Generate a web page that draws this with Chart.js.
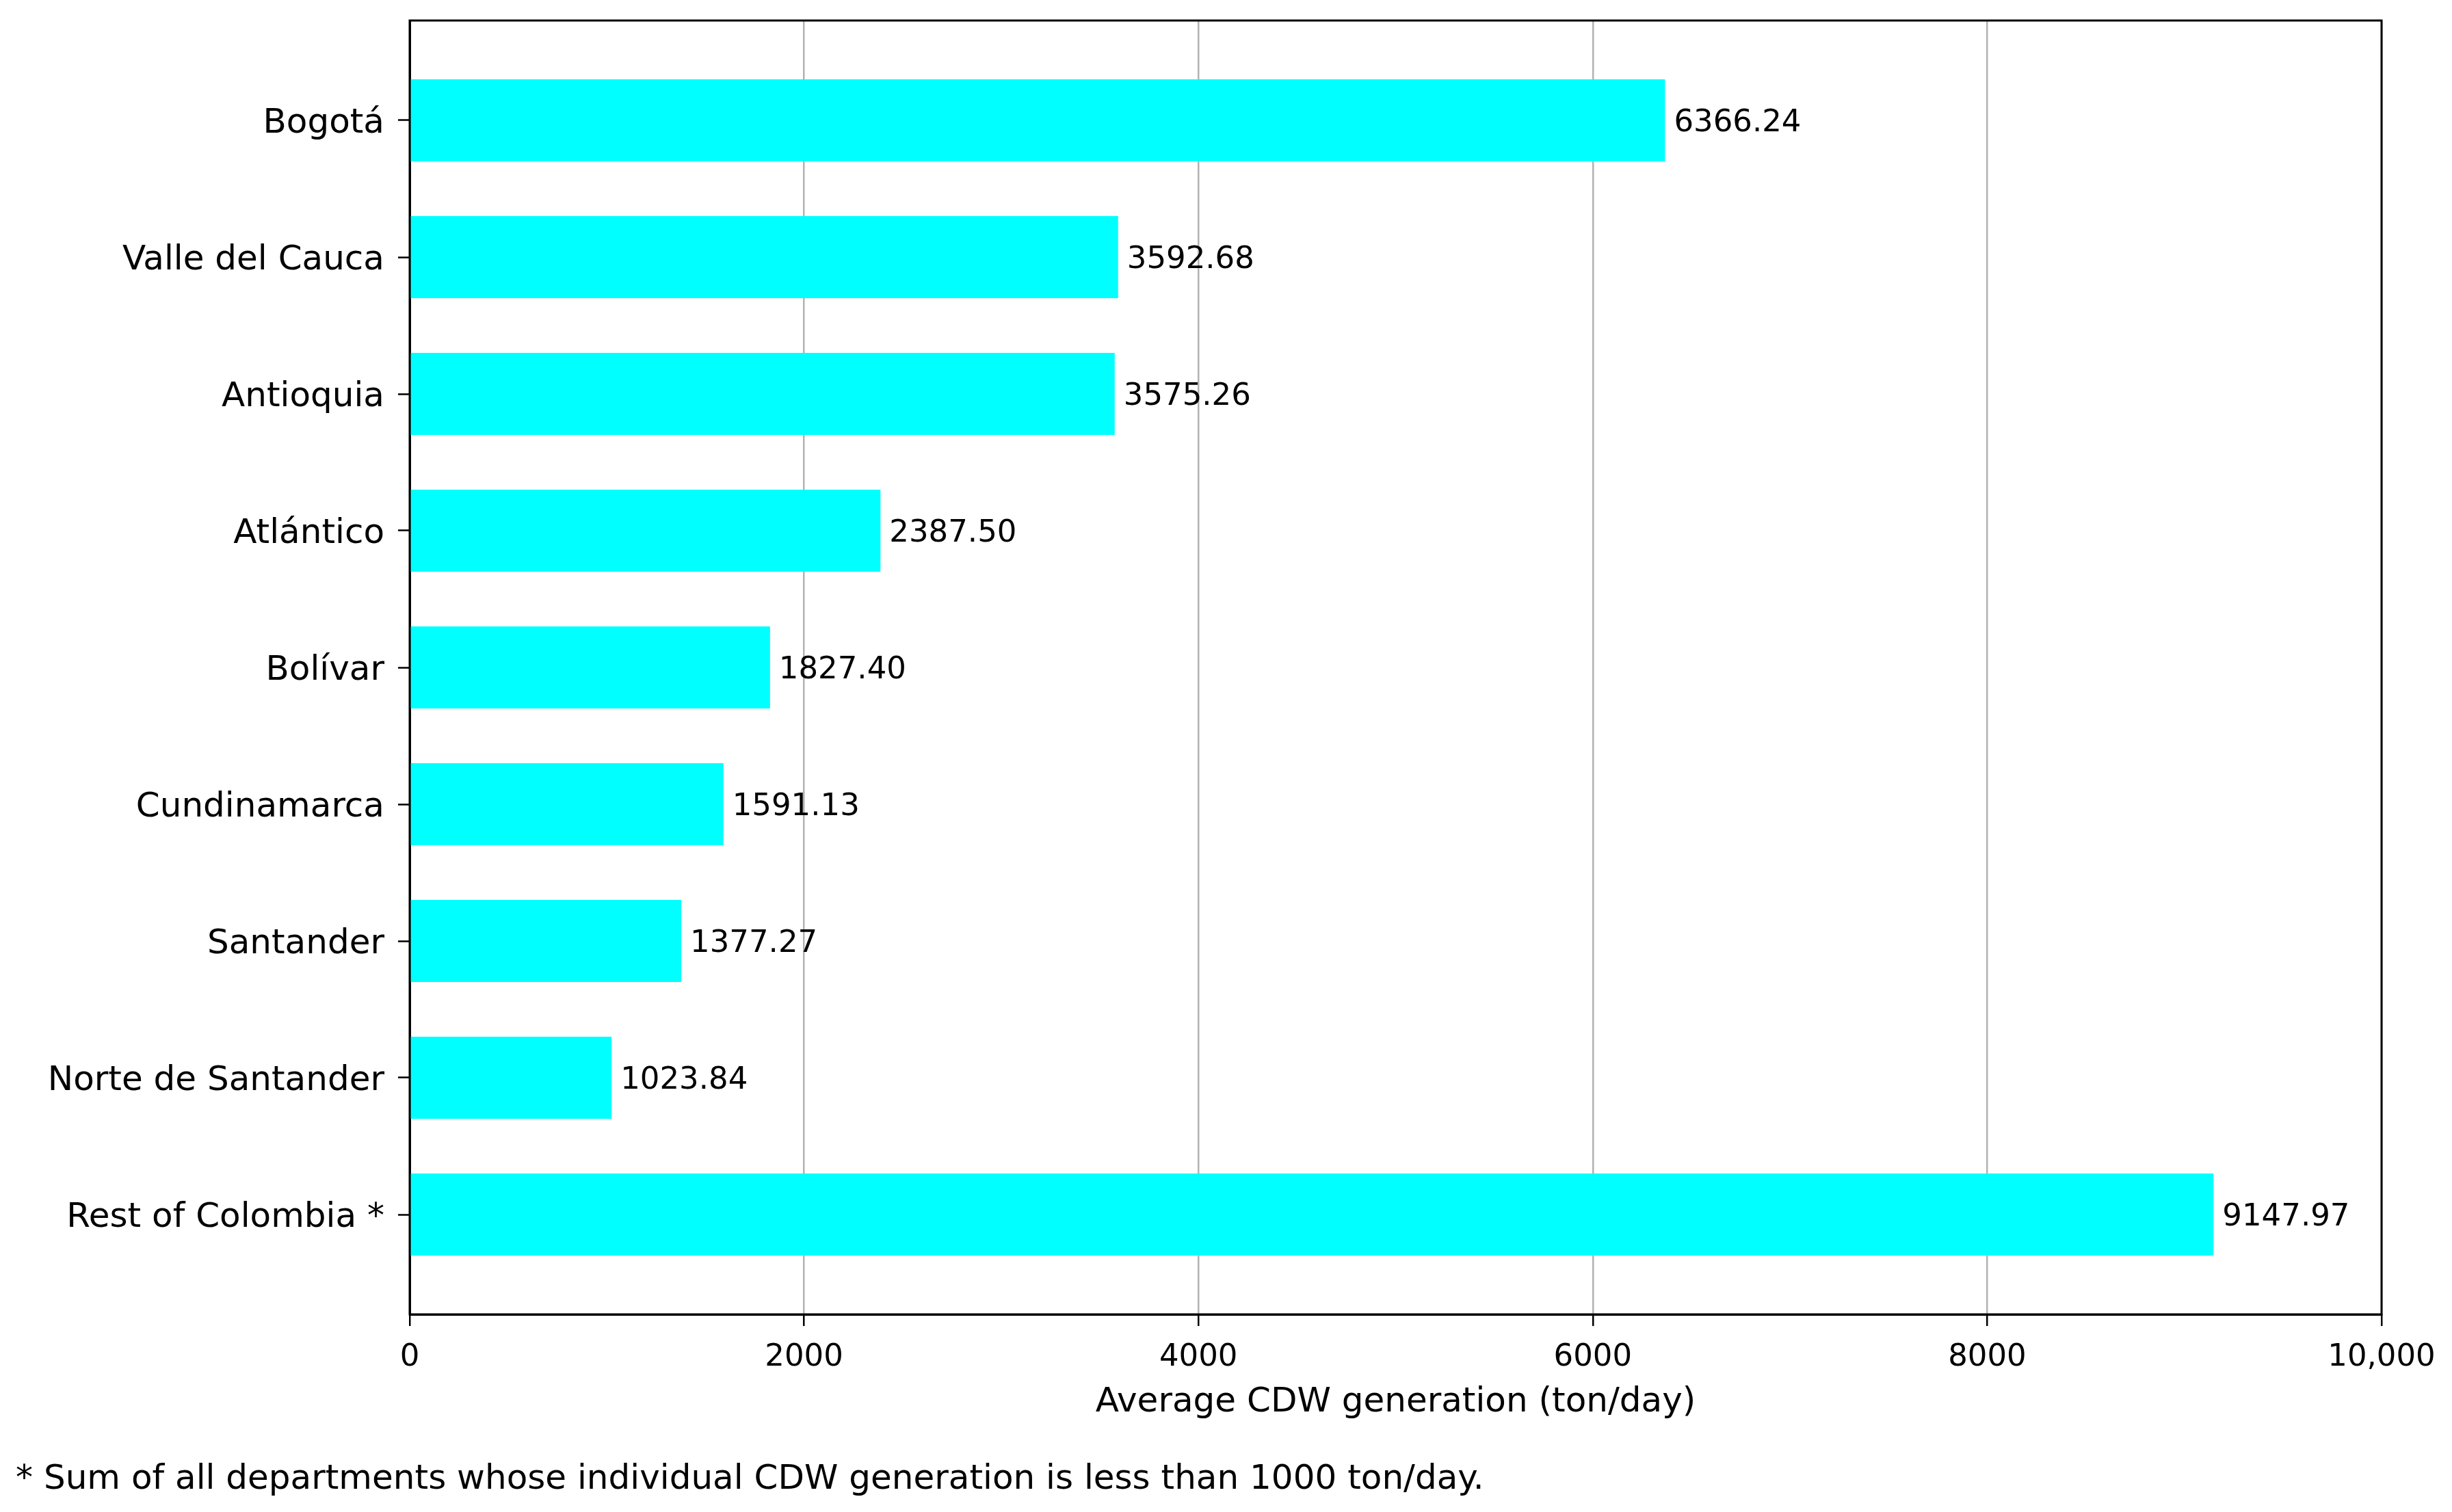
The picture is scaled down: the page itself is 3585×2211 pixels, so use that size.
<!DOCTYPE html>
<html>
<head>
<meta charset="utf-8">
<script src="https://cdn.jsdelivr.net/npm/chart.js@4"></script>
<style>
  html, body { margin: 0; padding: 0; background: #ffffff; }
  #wrap { width: 3585px; height: 2211px; position: relative; }
  canvas { display: block; }
</style>
</head>
<body>
<div id="wrap"><canvas id="c" width="3585" height="2211" style="width:3585px;height:2211px"></canvas></div>
<script>
const categories = ["Bogotá", "Valle del Cauca", "Antioquia", "Atlántico", "Bolívar", "Cundinamarca", "Santander", "Norte de Santander", "Rest of Colombia *"];
const values = [6366.24, 3592.68, 3575.26, 2387.50, 1827.40, 1591.13, 1377.27, 1023.84, 9147.97];
const xTicks = [0, 2000, 4000, 6000, 8000, 10000];
const xTickLabels = ["0", "2000", "4000", "6000", "8000", "10,000"];
const xTitle = "Average CDW generation (ton/day)";
const footnote = "* Sum of all departments whose individual CDW generation is less than 1000 ton/day.";

const FONT = "'DejaVu Sans', 'Liberation Sans', sans-serif";

const valueLabels = {
  id: 'valueLabels',
  afterDatasetsDraw(chart) {
    const ctx = chart.ctx;
    const meta = chart.getDatasetMeta(0);
    ctx.save();
    ctx.font = "45px " + FONT;
    ctx.fillStyle = "#000";
    ctx.textAlign = "left";
    ctx.textBaseline = "middle";
    meta.data.forEach((bar, i) => {
      ctx.fillText(values[i].toFixed(2), bar.x + 13, bar.y + 4);
    });
    ctx.restore();
  }
};

const frame = {
  id: 'frame',
  afterDraw(chart) {
    const a = chart.chartArea;
    const ctx = chart.ctx;
    ctx.save();
    ctx.strokeStyle = "#000";
    ctx.lineWidth = 3;
    ctx.strokeRect(a.left, a.top, a.right - a.left, a.bottom - a.top);
    ctx.font = "50px " + FONT;
    ctx.fillStyle = "#000";
    ctx.textAlign = "left";
    ctx.textBaseline = "alphabetic";
    ctx.fillText(footnote, 23, 2177);
    ctx.restore();
  }
};

new Chart(document.getElementById('c'), {
  type: 'bar',
  data: {
    datasets: [{
      data: values.map((v, i) => ({ x: v, y: i })),
      backgroundColor: '#00FFFF',
      borderWidth: 0,
      categoryPercentage: 1.0,
      barPercentage: 0.6
    }]
  },
  options: {
    indexAxis: 'y',
    responsive: false,
    devicePixelRatio: 1,
    animation: false,
    layout: { padding: { top: 30, right: 103, left: 0, bottom: 0 } },
    plugins: { legend: { display: false }, tooltip: { enabled: false }, title: { display: false } },
    scales: {
      x: {
        type: 'linear',
        position: 'bottom',
        min: 0, max: 10000,
        z: 1,
        afterBuildTicks(scale) { scale.ticks = xTicks.map(v => ({ value: v })); },
        afterFit(scale) { scale.height = 289; },
        ticks: {
          color: '#000',
          font: { family: FONT, size: 45 },
          padding: 19,
          maxRotation: 0,
          callback: (v, i) => xTickLabels[i]
        },
        grid: {
          color: 'rgba(0,0,0,0.3)',
          lineWidth: 2.5,
          drawTicks: true,
          tickLength: 17,
          tickColor: '#000',
          tickWidth: 2.5
        },
        border: { display: true, color: '#000', width: 3 },
        title: {
          display: true,
          text: xTitle,
          color: '#000',
          font: { family: FONT, size: 50 },
          padding: { top: 0, bottom: 130 }
        }
      },
      y: {
        type: 'linear',
        reverse: true,
        offset: false,
        min: -0.73, max: 8.73,
        afterBuildTicks(scale) { scale.ticks = categories.map((c, i) => ({ value: i })); },
        afterFit(scale) { scale.width = 599; scale.paddingTop = 0; scale.paddingBottom = 0; },
        ticks: {
          color: '#000',
          font: { family: FONT, size: 50 },
          padding: 20,
          labelOffset: 5,
          callback: (v) => categories[v]
        },
        grid: {
          offset: false,
          drawOnChartArea: false,
          drawTicks: true,
          tickLength: 17,
          tickColor: '#000',
          tickWidth: 2.5
        },
        border: { display: true, color: '#000', width: 3 }
      }
    }
  },
  plugins: [valueLabels, frame]
});
</script>
</body>
</html>
